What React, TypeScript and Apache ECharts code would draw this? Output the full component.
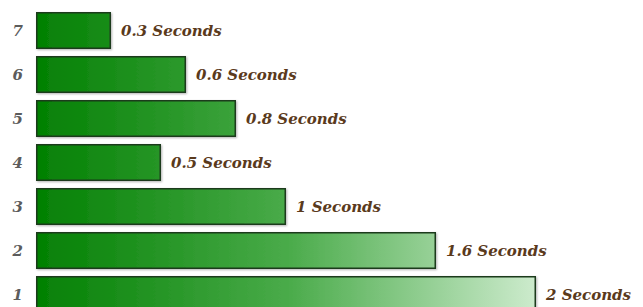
import React, { useEffect, useRef } from "react";
import * as echarts from "echarts";

const categories = ["1", "2", "3", "4", "5", "6", "7"];
const seconds = [2, 1.6, 1, 0.5, 0.8, 0.6, 0.3];
const unit = "Seconds";

export default function App() {
  const ref = useRef<HTMLDivElement>(null);
  useEffect(() => {
    if (!ref.current) return;
    const chart = echarts.init(ref.current, null, { renderer: "svg" });
    const grad = new echarts.graphic.LinearGradient(
      36, 0, 540, 0,
      [
        { offset: 0, color: "#038003" },
        { offset: 0.5, color: "#4aab4a" },
        { offset: 1, color: "#cfeccf" },
      ],
      true
    );
    chart.setOption({
      animation: false,
      backgroundColor: "#ffffff",
      grid: { left: 36, top: 8.5, width: 600, height: 308, containLabel: false },
      xAxis: {
        type: "value",
        min: 0,
        max: 2.4,
        show: false,
        splitLine: { show: false },
      },
      yAxis: {
        type: "category",
        data: categories,
        axisLine: { show: false },
        axisTick: { show: false },
        axisLabel: {
          margin: 13,
          color: "#5c5c5c",
          fontFamily: "DejaVu Serif",
          fontStyle: "italic",
          fontWeight: "bold",
          fontSize: 15,
        },
      },
      series: [
        {
          type: "bar",
          data: seconds,
          barWidth: 37,
          itemStyle: {
            color: grad,
            borderColor: "#1c3a1c",
            borderWidth: 1.5,
            shadowBlur: 2,
            shadowOffsetX: 1,
            shadowOffsetY: 1,
            shadowColor: "rgba(0,0,0,0.3)",
          },
          label: {
            show: true,
            position: "right",
            distance: 10,
            formatter: (p: any) => `${p.value} ${unit}`,
            color: "#5a3a1c",
            fontFamily: "DejaVu Serif",
            fontStyle: "italic",
            fontWeight: "bold",
            fontSize: 15,
          },
        },
      ],
    });
    return () => chart.dispose();
  }, []);
  return (
    <div
      ref={ref}
      style={{ position: "fixed", left: 0, top: 0, width: 643, height: 330 }}
    />
  );
}
